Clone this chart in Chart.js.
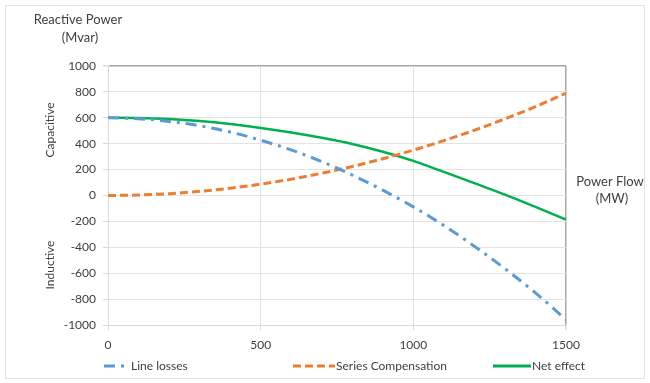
<!DOCTYPE html>
<html>
<head>
<meta charset="utf-8">
<script src="https://cdn.jsdelivr.net/npm/chart.js@4"></script>
<style>
  html, body { margin: 0; padding: 0; background: #fff; }
  #wrap { width: 650px; height: 383px; position: relative; }
</style>
</head>
<body>
<div id="wrap"><canvas id="chart"></canvas></div>
<script>
// power flow (MW)
var powerFlow = [0, 100, 200, 300, 400, 500, 600, 700, 800, 900, 1000, 1100, 1200, 1300, 1400, 1500];
// reactive power (Mvar)
var lineLosses = [600, 593, 572, 538, 490, 427, 352, 262, 158, 41, -88, -232, -392, -565, -752, -958];
var seriesComp = [0, 4, 14, 32, 56, 88, 126, 172, 224, 284, 350, 424, 504, 592, 686, 790];
var netEffect = [600, 598, 590, 575, 552, 522, 487, 446, 398, 338, 267, 182, 95, 7, -88, -186];

var seriesNames = ["Line losses", "Series Compensation", "Net effect"];
var seriesColors = ["#5B9BD5", "#ED7D31", "#00B050"];
var seriesDash = [[11, 6, 3, 6], [8, 4], []];

var FONT = "Lato, 'Open Sans', sans-serif";
var TEXT = "#404040";

function pts(ys) {
  return powerFlow.map(function(x, i) { return { x: x, y: ys[i] }; });
}

var decor = {
  id: "decor",
  beforeDraw: function(chart) {
    var ctx = chart.ctx;
    ctx.save();
    ctx.strokeStyle = "#e3e3e3";
    ctx.lineWidth = 1;
    ctx.strokeRect(5.5, 5.5, 639, 373);
    ctx.restore();
  },
  afterDraw: function(chart) {
    var ctx = chart.ctx;
    ctx.save();
    ctx.fillStyle = TEXT;
    ctx.font = "13px " + FONT;
    ctx.textAlign = "center";
    ctx.textBaseline = "middle";
    ctx.fillText("Reactive Power", 78, 20);
    ctx.fillText("(Mvar)", 80, 38);
    ctx.fillText("Power Flow", 610, 182);
    ctx.fillText("(MW)", 612, 199);

    ctx.font = "12px " + FONT;
    ctx.save();
    ctx.translate(50, 130);
    ctx.rotate(-Math.PI / 2);
    ctx.fillText("Capacitive", 0, 0);
    ctx.restore();
    ctx.save();
    ctx.translate(50, 265);
    ctx.rotate(-Math.PI / 2);
    ctx.fillText("Inductive", 0, 0);
    ctx.restore();

    // legend
    var y = 366;
    var items = [
      { x1: 104, x2: 126, tx: 131 },
      { x1: 293, x2: 335, tx: 336 },
      { x1: 493, x2: 531, tx: 532 }
    ];
    ctx.textAlign = "left";
    ctx.font = "12px " + FONT;
    items.forEach(function(it, i) {
      ctx.strokeStyle = seriesColors[i];
      ctx.lineWidth = 3;
      ctx.setLineDash(seriesDash[i]);
      ctx.beginPath();
      ctx.moveTo(it.x1, y);
      ctx.lineTo(it.x2, y);
      ctx.stroke();
      ctx.setLineDash([]);
      ctx.fillStyle = TEXT;
      ctx.fillText(seriesNames[i], it.tx, y);
    });
    ctx.restore();
  }
};

var datasets = [lineLosses, seriesComp, netEffect].map(function(ys, i) {
  return {
    label: seriesNames[i],
    data: pts(ys),
    borderColor: seriesColors[i],
    backgroundColor: seriesColors[i],
    borderWidth: i == 2 ? 2.5 : 3,
    borderDash: seriesDash[i],
    borderCapStyle: "butt",
    pointRadius: 0,
    cubicInterpolationMode: "monotone",
    fill: false
  };
});

new Chart(document.getElementById("chart"), {
  type: "line",
  data: { datasets: datasets },
  options: {
    responsive: true,
    maintainAspectRatio: false,
    animation: false,
    layout: { padding: { top: 66, right: 84, left: 0, bottom: 0 } },
    plugins: { legend: { display: false }, tooltip: { enabled: false } },
    scales: {
      x: {
        type: "linear",
        min: 0,
        max: 1500,
        afterFit: function(s) { s.height = 58; },
        border: { color: "#d9d9d9" },
        grid: {
          color: function(c) {
            var v = c.tick.value;
            if (v == 1500) return "#a6a6a6";
            if (v == 500 || v == 1000) return "#e3e3e3";
            return "rgba(0,0,0,0)";
          },
          lineWidth: function(c) { return c.tick.value == 1500 ? 1.5 : 1; },
          tickColor: "#d9d9d9",
          tickLength: 5
        },
        ticks: {
          stepSize: 250,
          padding: 8,
          color: TEXT,
          font: { family: FONT, size: 12 },
          maxRotation: 0,
          callback: function(v) { return v % 500 == 0 ? v : null; }
        }
      },
      y: {
        min: -1000,
        max: 1000,
        afterFit: function(s) { s.width = 108; },
        border: { color: "#d9d9d9" },
        grid: {
          color: function(c) {
            var v = c.tick.value;
            if (v == 1000) return "#a6a6a6";
            if (v % 200 == 0) return "#e3e3e3";
            return "rgba(0,0,0,0)";
          },
          lineWidth: function(c) { return c.tick.value == 1000 ? 1.5 : 1; },
          tickColor: "#d9d9d9",
          tickLength: 5
        },
        ticks: {
          stepSize: 100,
          padding: 7,
          color: TEXT,
          font: { family: FONT, size: 12 },
          callback: function(v) { return v % 200 == 0 ? v : null; }
        }
      }
    }
  },
  plugins: [decor]
});
</script>
</body>
</html>
